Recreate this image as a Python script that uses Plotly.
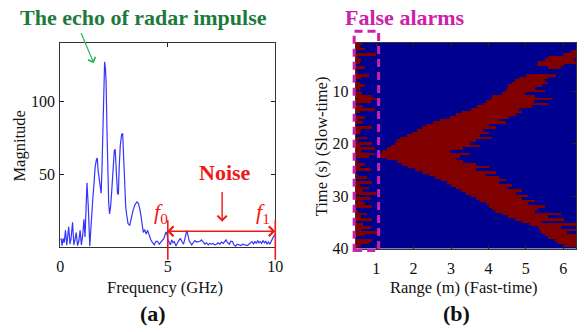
import numpy as np
import plotly.graph_objects as go

W, H = 584, 332

# ---------------- panel (a) data ----------------
freq_ghz = [0.0, 0.04, 0.08, 0.13, 0.18, 0.24, 0.30, 0.35, 0.39, 0.45, 0.50, 0.57, 0.63, 0.68, 0.74,
            0.80, 0.86, 0.92, 0.98, 1.04, 1.10, 1.15, 1.20, 1.24, 1.30, 1.34, 1.37, 1.41, 1.45, 1.51,
            1.57, 1.62, 1.68, 1.72, 1.76, 1.81, 1.86, 1.90, 1.94, 1.98, 2.02, 2.06, 2.10, 2.13, 2.17,
            2.21, 2.25, 2.29, 2.34, 2.39, 2.45, 2.51, 2.55, 2.59, 2.63, 2.66, 2.70, 2.74, 2.79, 2.85,
            2.90, 2.95, 3.00, 3.04, 3.08, 3.15, 3.23, 3.30, 3.38, 3.47, 3.56, 3.63, 3.70, 3.76, 3.81,
            3.86, 3.92, 3.99, 4.06, 4.13, 4.21, 4.29, 4.37, 4.45, 4.52, 4.60, 4.67, 4.75, 4.82, 4.88,
            4.93, 4.97, 5.00, 5.05, 5.12, 5.18, 5.24, 5.30, 5.38, 5.45, 5.52, 5.58, 5.65, 5.73, 5.80,
            5.88, 5.94, 5.99, 6.05, 6.11, 6.18, 6.26, 6.34, 6.42, 6.50, 6.57, 6.64, 6.72, 6.80, 6.88,
            6.95, 7.03, 7.10, 7.18, 7.26, 7.34, 7.42, 7.50, 7.58, 7.65, 7.71, 7.78, 7.86, 7.93, 8.01,
            8.08, 8.16, 8.24, 8.32, 8.40, 8.48, 8.56, 8.64, 8.69, 8.77, 8.85, 8.92, 8.99, 9.05, 9.12,
            9.18, 9.24, 9.30, 9.37, 9.43, 9.50, 9.56, 9.62, 9.68, 9.74, 9.80, 9.86, 9.91, 9.96, 10.0]
magnitude = [5, 5.8, 1, 6, 3, 11.5, 1.3, 8, 14, 2, 6, 17, 1.5, 5, 10,
             1, 4, 11.5, 1.5, 8, 19, 7, 30, 44, 28, 8, 0.7, 10, 22, 33,
             44, 55, 60, 61, 52, 45, 39, 37, 55, 79, 105, 127, 122, 113, 80,
             44, 30, 22.7, 28, 38, 52, 66, 67, 59, 45, 37, 36, 55, 70, 77,
             78, 60, 36, 28, 22.7, 16, 15, 20, 25, 29, 31, 30, 26, 20.5, 14,
             10, 12, 9, 11.5, 8, 5, 3, 1.5, 4, 4, 2, 3.5, 5, 6, 9,
             10.5, 8, 5, 3.8, 1.5, 5, 3, 3.8, 0.8, 3, 5, 6, 4, 2, 6,
             11.5, 8, 4.5, 3, 1.5, 3, 4.5, 3.5, 3.8, 4, 5, 3.5, 2, 3, 1.5,
             2.5, 2, 2.5, 1.5, 2, 3, 2, 3.5, 2.5, 3.5, 5, 3, 2, 4, 3.8,
             1.5, 0.7, 2, 1.5, 1, 2, 1.5, 1.5, 1, 2, 3, 3.8, 2, 4, 2.5,
             4.5, 3, 3.8, 2.5, 4.5, 3, 4, 2, 3.5, 2, 4, 5, 7, 8, 9]
a_xticks = [0, 5, 10]
a_yticks = [50, 100]
noise_f0, noise_f1 = 5, 10

# ---------------- panel (b) data ----------------
time_s = np.arange(1.0, 40.01, 0.5)          # slow-time rows
band_start = [None, None, None, 6.20, 5.98, 5.58, 5.50, 5.32, 5.28, 5.58,
              None, None, 5.00, 4.80, 4.71, 4.62, 4.53, 4.50, 4.45, 4.36,
              4.10, 4.06, 3.92, 3.84, 3.71, 3.53, 3.31, 3.14, 2.96, 2.70,
              2.53, 2.35, 2.22, 2.09, 1.96, 1.83, 1.65, 1.57, 1.50, 1.40,
              1.28, 1.17, 1.05, 1.09, 1.31, 1.57, 1.70, 1.87, 2.05, 2.22,
              2.40, 2.57, 2.75, 2.88, 3.01, 3.14, 3.27, 3.40, 3.53, 3.66,
              3.79, 3.92, 4.01, 4.10, 4.19, 4.36, 4.53, 4.71, 4.88, 5.10,
              5.32, 5.37, 5.41, 5.50, 5.58, 5.76, 5.85, 6.00, None]
band_end = [None, None, None, 6.34, 6.34, 6.34, 6.28, 6.34, 6.02, 5.93,
            None, None, 5.80, 5.58, 5.50, 5.58, 5.41, 5.23, 5.50, 4.97,
            5.23, 5.67, 5.19, 5.58, 5.15, 4.80, 4.88, 4.71, 4.53, 4.27,
            4.45, 4.01, 4.19, 3.84, 4.01, 3.75, 4.10, 3.66, 3.50, 3.75,
            3.31, 2.96, 3.49, 3.23, 3.14, 3.31, 3.66, 4.01, 3.66, 4.19,
            3.92, 4.27, 4.45, 4.27, 4.62, 4.45, 4.88, 4.71, 5.06, 4.88,
            5.23, 5.06, 5.50, 5.32, 5.23, 5.93, 5.58, 6.02, 5.41, 6.34,
            5.93, 6.34, 6.10, 6.34, 6.34, 6.34, 6.34, 6.34, None]
clutter_end = [0.62, 0.55, 0.70, 0, 1.00, 0.50, 0.60, 0.55, 0, 0.70,
               0, 0.52, 0.80, 0.60, 0, 0.55, 0.70, 0.58, 0, 0.62,
               0.90, 1.05, 0.85, 0, 0.65, 0.95, 0.55, 0, 0.70, 0.50,
               0.65, 0, 0.90, 0.60, 0.55, 0, 0.75, 0.50, 0.90, 0.55,
               0.95, 0.60, 0.98, 0.80, 0, 0.50, 0.70, 0.55, 0.85, 0,
               0.50, 0.75, 0, 0.90, 0.55, 0.80, 0.65, 1.00, 0, 0.85,
               0.55, 0.70, 0.90, 0, 0.50, 0.75, 0.60, 0.90, 0, 0.65,
               0.85, 0.60, 1.05, 0.70, 0, 0.90, 0.80, 0.60, 0.50]
range_m = np.round(np.arange(0.45, 6.345, 0.02), 3)
b_xticks = [1, 2, 3, 4, 5, 6]
b_yticks = [10, 20, 30, 40]

z = []
for s, e, c in zip(band_start, band_end, clutter_end):
    row = (range_m <= c)
    if s is not None:
        row = row | ((range_m >= s) & (range_m <= e))
    z.append(row.astype(int))
z = np.array(z)

# ---------------- layout geometry (pixels) ----------------
LA = dict(x0=57.5, x1=277, ytop=44, ybot=254, xr=(0, 10), yr=(0, 140))
RB = dict(x0=359, x1=584, ytop=44, ybot=255.5, xr=(0.45, 6.34), yr=(40, 0.8))


def px(v):
    return v / W


def py(v):
    return 1 - v / H


def a_xpix(v):
    return LA['x0'] + (v - LA['xr'][0]) / (LA['xr'][1] - LA['xr'][0]) * (LA['x1'] - LA['x0'])


def a_ypix(v):
    return LA['ybot'] - (v - LA['yr'][0]) / (LA['yr'][1] - LA['yr'][0]) * (LA['ybot'] - LA['ytop'])


SERIF = "Liberation Serif"
BLUE_LINE = "#3434ff"
RED = "#f01818"
GREEN_T = "#1d7a3c"
GREEN_A = "#2cb85a"
MAGENTA = "#cc22aa"

fig = go.Figure()
fig.add_trace(go.Scatter(x=freq_ghz, y=magnitude, mode="lines",
                         line=dict(color=BLUE_LINE, width=1.2),
                         xaxis="x", yaxis="y", showlegend=False))
fig.add_trace(go.Heatmap(x=range_m, y=time_s, z=z, xaxis="x2", yaxis="y2",
                         colorscale=[[0, "#00008f"], [1, "#800000"]],
                         zmin=0, zmax=1, showscale=False, hoverinfo="skip"))

axcommon = dict(showline=True, linecolor="#333333", linewidth=1, ticks="inside",
                ticklen=4, tickcolor="#222222", showgrid=False, zeroline=False,
                tickfont=dict(family=SERIF, size=16, color="#111111"))

fig.update_layout(
    width=W, height=H, margin=dict(l=0, r=0, t=0, b=0),
    paper_bgcolor="white", plot_bgcolor="white",
    xaxis=dict(domain=[px(LA['x0']), px(LA['x1'])], range=list(LA['xr']),
               tickvals=a_xticks, mirror="allticks", anchor="y", ticklabelstandoff=5, **axcommon),
    yaxis=dict(domain=[py(LA['ybot']), py(LA['ytop'])], range=list(LA['yr']),
               tickvals=a_yticks, mirror="allticks", anchor="x", ticklabelstandoff=1, **axcommon),
    xaxis2=dict(domain=[px(RB['x0']), px(RB['x1'])], range=list(RB['xr']),
                tickvals=b_xticks, mirror="allticks", anchor="y2", ticklabelstandoff=5, **axcommon),
    yaxis2=dict(domain=[py(RB['ybot']), py(RB['ytop'])], range=list(RB['yr']),
                tickvals=b_yticks, mirror="allticks", anchor="x2", ticklabelstandoff=3, **axcommon),
)

ann = []


def text(x, y, s, size, color="#111111", bold=False, angle=0):
    ann.append(dict(x=px(x), y=py(y), xref="paper", yref="paper", showarrow=False,
                    text=("<b>%s</b>" % s) if bold else s, textangle=angle,
                    xanchor="center", yanchor="middle",
                    font=dict(family=SERIF, size=size, color=color)))


text(142.5, 18, "The echo of radar impulse", 22, GREEN_T, bold=True)
text(226, 177.5, "Noise", 22, RED, bold=True)
text(409, 18, "False alarms", 22, MAGENTA, bold=True)
text(152, 322, "(a)", 22, "#111111", bold=True)
text(462, 322, "(b)", 22, "#111111", bold=True)
text(16, 150, "Magnitude", 16.5, angle=-90)
text(164.5, 295, "Frequency (GHz)", 16.5)
text(325, 150, "Time (s) (Slow-time)", 16.5, angle=-90)
text(470, 295, "Range (m) (Fast-time)", 16.5)
text(160, 219, "<i>f</i><sub>0</sub>", 22, RED)
text(264, 219, "<i>f</i><sub>1</sub>", 22, RED)

# green arrow to the echo peak
ann.append(dict(x=px(91.7), y=py(65), xref="paper", yref="paper", text="", showarrow=True,
                ax=78.3 - 91.7, ay=33.3 - 65, arrowhead=4, arrowsize=1.3, arrowwidth=1.2,
                arrowcolor=GREEN_A))
# red arrow pointing at noise
ann.append(dict(x=px(222.7), y=py(228), xref="paper", yref="paper", text="", showarrow=True,
                ax=0, ay=196.7 - 228, arrowhead=4, arrowsize=1.3, arrowwidth=1.4,
                arrowcolor=RED))
# red double arrow between f0 and f1
yb = a_ypix(10.9)
ann.append(dict(x=px(a_xpix(noise_f1)), y=py(yb), xref="paper", yref="paper", text="",
                showarrow=True, axref="pixel", ax=a_xpix(noise_f0) - a_xpix(noise_f1), ay=0,
                arrowhead=4, startarrowhead=4, arrowside="end+start", arrowsize=1.2,
                startarrowsize=1.2, arrowwidth=1.6, arrowcolor=RED))

shapes = []
for f in (noise_f0, noise_f1):
    xp = a_xpix(f)
    shapes.append(dict(type="line", xref="paper", yref="paper", x0=px(xp), x1=px(xp),
                       y0=py(226.5), y1=py(267), line=dict(color=RED, width=1.6)))
# dashed box around false alarms
shapes.append(dict(type="rect", xref="paper", yref="paper", x0=px(357.5), x1=px(382.5),
                   y0=py(257.5), y1=py(32), line=dict(color=MAGENTA, width=3, dash="8px,5px"),
                   fillcolor="rgba(0,0,0,0)"))

fig.update_layout(annotations=ann, shapes=shapes)
fig.write_html("out.html")
